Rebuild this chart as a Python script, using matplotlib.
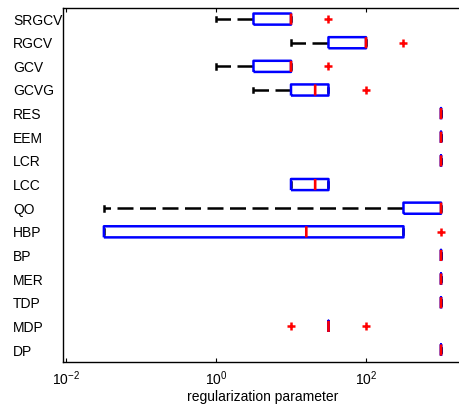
import matplotlib
matplotlib.use('Agg')
import matplotlib.pyplot as plt
from matplotlib.ticker import NullLocator

plt.rcParams['font.family'] = ['Liberation Sans', 'DejaVu Sans']
plt.rcParams['mathtext.fontset'] = 'custom'
plt.rcParams['mathtext.rm'] = 'Liberation Sans'
plt.rcParams['mathtext.it'] = 'Liberation Sans:italic'

# methods listed top to bottom
methods = ['SRGCV', 'RGCV', 'GCV', 'GCVG', 'RES', 'EEM', 'LCR', 'LCC',
           'QO', 'HBP', 'BP', 'MER', 'TDP', 'MDP', 'DP']
whislo = [1, 10, 1, 3.16, 1000, 1000, 1000, 10, 0.032, 0.032, 1000, 1000, 1000, 31.6, 1000]
q1 = [3.16, 31.6, 3.16, 10, 1000, 1000, 1000, 10, 316, 0.032, 1000, 1000, 1000, 31.6, 1000]
med = [10, 100, 10, 21, 1000, 1000, 1000, 21, 1000, 16, 1000, 1000, 1000, 31.6, 1000]
q3 = [10, 100, 10, 31.6, 1000, 1000, 1000, 31.6, 1000, 316, 1000, 1000, 1000, 31.6, 1000]
whishi = [10, 100, 10, 31.6, 1000, 1000, 1000, 31.6, 1000, 316, 1000, 1000, 1000, 31.6, 1000]
fliers = [[31.6], [316], [31.6], [100], [], [], [], [], [], [1000], [], [], [], [10, 100], []]

stats = []
for i in range(len(methods)):
    stats.append({'label': methods[i], 'whislo': whislo[i], 'q1': q1[i], 'med': med[i],
                  'q3': q3[i], 'whishi': whishi[i], 'fliers': fliers[i]})

fig = plt.figure(figsize=(4.59, 4.08), dpi=100)
ax = fig.add_axes([63.3 / 459, 45.7 / 408, (462 - 63.3) / 459, (362.3 - 7.5) / 408])

positions = list(range(len(methods), 0, -1))
ax.bxp(stats, positions=positions, vert=False, widths=0.47, capwidths=0.2,
       boxprops=dict(color='#0000ff', lw=1.8, zorder=2, snap=False,
                     solid_joinstyle='round', solid_capstyle='butt'),
       medianprops=dict(color='#ff0000', lw=1.9, zorder=3, snap=False),
       whiskerprops=dict(color='black', lw=1.8, linestyle=(0, (6.4, 2.6)), zorder=1.5),
       capprops=dict(color='black', lw=1.8, zorder=1.5),
       flierprops=dict(marker='+', markeredgecolor='#ff0000', markersize=6,
                       markeredgewidth=1.8, linestyle='none', zorder=3))

ax.set_xscale('log')
ax.set_xlim(10 ** (-2.036), 10 ** 3.28)
ax.set_ylim(0.48, 15.49)
ax.set_xticks([1e-2, 1, 1e2])
ax.xaxis.set_minor_locator(NullLocator())
ax.tick_params(axis='x', direction='in', length=3, top=True, labelsize=10, pad=5)
ax.tick_params(axis='y', length=0, labelsize=10, pad=36.2)
for lab in ax.get_yticklabels():
    lab.set_horizontalalignment('left')
ax.spines['right'].set_visible(False)
for s in ['left', 'bottom', 'top']:
    ax.spines[s].set_linewidth(1.0)

ax.set_xlabel('regularization parameter', fontsize=10, labelpad=1.5)

fig.savefig('out.png', dpi=100)
